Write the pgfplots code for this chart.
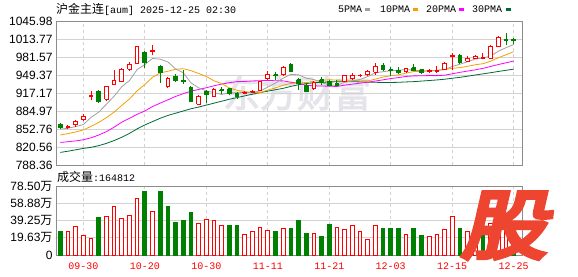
\documentclass[border=0pt]{standalone}
\usepackage{fontspec}
\setmainfont{Liberation Sans}
\newfontfamily\cjk{Noto Sans CJK SC}
\newfontfamily\cjkb[FakeBold=3]{Noto Sans CJK SC}
\newfontfamily\cjkh[FakeBold=6]{Noto Sans CJK SC}
\newfontfamily\mono{Liberation Mono}
\usepackage{pgfplots}
\pgfplotsset{compat=1.18}
\definecolor{kred}{HTML}{FF0000}
\definecolor{kgreen}{HTML}{008000}
\definecolor{maA}{HTML}{A0A0A0}
\definecolor{maB}{HTML}{F5A000}
\definecolor{maC}{HTML}{FF00FF}
\definecolor{maD}{HTML}{006A35}
\definecolor{framec}{HTML}{8C8C8C}
\definecolor{gridc}{HTML}{D2D2D2}
\definecolor{logoc}{HTML}{EE4530}
\definecolor{wmc}{HTML}{E4E4EA}
% candle: left edge, index, right edge, open, high, low, close
\newcommand\candU[7]{%
\addplot[kred, line width=1pt] coordinates {(#2,#6)(#2,#5)};
\addplot[draw=kred, fill=white, line width=1pt, line join=miter] coordinates {(#1,#4)(#3,#4)(#3,#7)(#1,#7)(#1,#4)};}
\newcommand\candD[7]{%
\addplot[kgreen, line width=1pt] coordinates {(#2,#6)(#2,#5)};
\addplot[draw=kgreen, fill=kgreen, line width=1pt, line join=miter] coordinates {(#1,#4)(#3,#4)(#3,#7)(#1,#7)(#1,#4)};}
\pgfplotsset{kbase/.style={scale only axis, xmin=-0.56, xmax=60.08,
  axis line style={framec, line width=0.8pt}, major tick length=0pt,
  xmajorgrids, ymajorgrids, x grid style={gridc, dashed, line width=0.8pt},
  y grid style={gridc, line width=0.8pt},
  xtick={3,11,19,27,35,43,51,59},
  yticklabel style={font=\fontsize{12}{12}\selectfont, text=black},
  /pgf/number format/assume math mode=true}}
\begin{document}
\begin{tikzpicture}
\useasboundingbox (0pt,0pt) rectangle (578pt,276pt);
% watermark
\node[text=wmc, font=\cjkb\fontsize{37}{37}\selectfont, inner sep=0pt] at (297pt,183pt) {东方财富};
% price panel
\begin{axis}[kbase, at={(56pt,111pt)}, anchor=south west, width=466pt, height=144pt,
  ymin=788.36, ymax=1045.98, xticklabels={},
  ytick={788.36,820.56,852.76,884.97,917.17,949.37,981.57,1013.77,1045.98},
  yticklabels={788.36,820.56,852.76,884.97,917.17,949.37,981.57,1013.77,1045.98}]
\addplot[maD, line width=0.8pt] coordinates {(0,810.9)(1,813)(2,815.5)(3,818)(4,820)(5,823)(6,827)(7,832)(8,838)(9,845)(10,853)(11,860)(12,866)(13,872)(14,877)(15,881)(16,885)(17,889)(18,892)(19,895.5)(20,899)(21,902.5)(22,906)(23,909)(24,912)(25,915)(26,918)(27,920.5)(28,923)(29,925.5)(30,929)(31,932)(32,934)(33,935.5)(34,936.2)(35,937)(36,937.2)(37,937.5)(38,937.3)(39,937)(40,936.5)(41,936.3)(42,936)(43,936)(44,936.3)(45,937)(46,937.5)(47,938.5)(48,939.5)(49,940.5)(50,941.8)(51,943.5)(52,945.2)(53,947.2)(54,949.4)(55,951.4)(56,953.5)(57,955.7)(58,957.8)(59,959.8)};
\addplot[maC, line width=0.8pt] coordinates {(0,828.7)(1,830)(2,831.5)(3,833.5)(4,837)(5,842)(6,848)(7,856)(8,865)(9,872)(10,879)(11,885)(12,893)(13,899)(14,905)(15,911)(16,916)(17,920.5)(18,923.5)(19,926.6)(20,930.0)(21,933.2)(22,935.7)(23,937.5)(24,937.8)(25,938.7)(26,939.2)(27,939.7)(28,939.1)(29,938.8)(30,936.5)(31,934.6)(32,930.9)(33,930.0)(34,929.7)(35,929.3)(36,928.9)(37,931.2)(38,933.1)(39,934.8)(40,936.5)(41,938.6)(42,940.7)(43,943.0)(44,944.7)(45,946.8)(46,947.8)(47,947.9)(48,948.4)(49,948.2)(50,949.0)(51,951.5)(52,954.1)(53,956.4)(54,958.6)(55,961.2)(56,964.7)(57,968.1)(58,971.2)(59,974.3)};
\addplot[maB, line width=0.8pt] coordinates {(0,842)(1,844.5)(2,847.5)(3,851)(4,857.5)(5,864.5)(6,873)(7,883)(8,895)(9,906.5)(10,921.1)(11,932.5)(12,945.2)(13,953.1)(14,956.0)(15,959.7)(16,960.7)(17,957.1)(18,952.1)(19,946.8)(20,939.0)(21,934.0)(22,926.3)(23,922.0)(24,919.7)(25,917.8)(26,917.8)(27,922.5)(28,926.3)(29,931.0)(30,934.2)(31,935.4)(32,935.8)(33,938.2)(34,939.9)(35,940.9)(36,940.2)(37,940.1)(38,940.1)(39,938.8)(40,938.9)(41,941.9)(42,945.8)(43,948.0)(44,949.7)(45,952.8)(46,955.5)(47,956.0)(48,956.8)(49,957.7)(50,959.2)(51,961.3)(52,962.6)(53,964.9)(54,967.7)(55,969.6)(56,974.0)(57,980.2)(58,985.6)(59,991.0)};
\addplot[maA, line width=0.8pt] coordinates {(0,852.4)(1,854.2)(2,857.1)(3,860.7)(4,873.6)(5,882.9)(6,897.0)(7,911.5)(8,928.5)(9,939.4)(10,959.2)(11,968.0)(12,978.9)(13,977.7)(14,972.6)(15,960.3)(16,953.4)(17,935.3)(18,926.5)(19,920.9)(20,917.7)(21,914.6)(22,917.3)(23,917.5)(24,918.3)(25,917.8)(26,920.9)(27,927.7)(28,935.0)(29,943.7)(30,950.5)(31,949.7)(32,943.8)(33,941.2)(34,936.1)(35,931.3)(36,930.7)(37,936.2)(38,938.9)(39,941.4)(40,946.5)(41,953.2)(42,955.3)(43,957.0)(44,958.0)(45,959.1)(46,957.9)(47,956.7)(48,956.7)(49,957.4)(50,959.3)(51,964.6)(52,968.6)(53,973.1)(54,977.9)(55,979.9)(56,983.3)(57,991.9)(58,998.2)(59,1004.0)};
\candD{-0.24}{0}{0.24}{861.3}{863.7}{853.0}{855.4}
\candU{0.76}{1}{1.24}{854.8}{859.5}{853.0}{857.7}
\candU{1.76}{2}{2.24}{860.7}{869.0}{857.1}{866.6}
\candU{2.76}{3}{3.24}{869.0}{880.2}{867.2}{874.9}
\candU{3.76}{4}{4.24}{911.6}{920.5}{903.9}{913.4}
\candD{4.76}{5}{5.24}{919.9}{921.7}{899.8}{902.1}
\candU{5.76}{6}{6.24}{905.7}{930.5}{902.1}{928.2}
\candU{6.76}{7}{7.24}{931.7}{959.0}{931.1}{938.8}
\candU{7.76}{8}{8.24}{937.6}{961.9}{936.5}{960.1}
\candU{8.76}{9}{9.24}{959.6}{972.6}{957.2}{967.9}
\candU{9.76}{10}{10.24}{970.8}{1001.5}{970.3}{1001.0}
\candD{10.76}{11}{11.24}{990.3}{991.5}{961.9}{972.0}
\candU{11.76}{12}{12.24}{990.9}{1002.8}{985.0}{993.3}
\candD{12.76}{13}{13.24}{964.3}{967.9}{935.3}{954.2}
\candU{13.76}{14}{14.24}{929.4}{946.0}{926.4}{942.4}
\candD{14.76}{15}{15.24}{947.1}{951.9}{937.0}{939.4}
\candD{15.76}{16}{16.24}{939.4}{959.0}{934.1}{937.6}
\candD{16.76}{17}{17.24}{926.4}{928.8}{902.1}{902.7}
\candU{17.76}{18}{18.24}{896.8}{912.8}{895.0}{910.4}
\candD{18.76}{19}{19.24}{920.5}{922.3}{898.6}{914.6}
\candU{19.76}{20}{20.24}{911.6}{926.4}{910.4}{923.4}
\candD{20.76}{21}{21.24}{923.4}{928.2}{914.6}{921.7}
\candD{21.76}{22}{22.24}{924.6}{926.4}{913.9}{916.3}
\candD{22.76}{23}{23.24}{916.3}{919.3}{906.9}{911.6}
\candU{23.76}{24}{24.24}{916.3}{920.5}{914.6}{918.7}
\candU{24.76}{25}{25.24}{918.7}{923.4}{916.3}{920.5}
\candU{25.76}{26}{26.24}{921.7}{939.4}{919.9}{937.6}
\candU{26.76}{27}{27.24}{942.4}{956.0}{940.0}{950.1}
\candD{27.76}{28}{28.24}{950.1}{954.2}{941.2}{948.3}
\candU{28.76}{29}{29.24}{949.5}{964.9}{948.3}{961.9}
\candD{29.76}{30}{30.24}{968.4}{970.8}{954.2}{954.8}
\candD{30.76}{31}{31.24}{941.2}{944.2}{922.3}{933.5}
\candD{31.76}{32}{32.24}{930.5}{933.5}{918.7}{920.5}
\candU{32.76}{33}{33.24}{924.6}{938.8}{923.4}{935.3}
\candD{33.76}{34}{34.24}{941.2}{946.0}{931.7}{936.5}
\candD{34.76}{35}{35.24}{938.2}{941.2}{929.4}{930.5}
\candD{35.76}{36}{36.24}{934.1}{940.0}{929.4}{930.5}
\candU{36.76}{37}{37.24}{937.6}{950.1}{936.5}{948.3}
\candU{37.76}{38}{38.24}{943.0}{953.0}{940.0}{948.9}
\candU{38.76}{39}{39.24}{947.7}{951.3}{945.3}{948.9}
\candU{39.76}{40}{40.24}{949.5}{959.0}{947.1}{956.0}
\candU{40.76}{41}{41.24}{954.2}{970.8}{950.1}{963.7}
\candD{41.76}{42}{42.24}{966.7}{970.8}{956.0}{959.0}
\candD{42.76}{43}{43.24}{959.0}{963.1}{948.3}{957.2}
\candD{43.76}{44}{44.24}{957.8}{963.7}{951.3}{954.2}
\candU{44.76}{45}{45.24}{956.0}{962.5}{953.0}{961.3}
\candD{45.76}{46}{46.24}{961.9}{969.6}{956.0}{957.8}
\candD{46.76}{47}{47.24}{959.0}{960.1}{951.3}{953.0}
\candU{47.76}{48}{48.24}{955.4}{960.7}{953.0}{957.2}
\candU{48.76}{49}{49.24}{956.0}{964.9}{953.0}{957.8}
\candU{49.76}{50}{50.24}{959.0}{972.0}{957.8}{970.8}
\candU{50.76}{51}{51.24}{982.6}{988.6}{959.0}{984.4}
\candD{51.76}{52}{52.24}{983.8}{986.8}{969.0}{972.6}
\candU{52.76}{53}{53.24}{973.8}{983.8}{972.6}{979.7}
\candU{53.76}{54}{54.24}{979.1}{984.4}{977.9}{982.1}
\candU{54.76}{55}{55.24}{979.7}{988.6}{977.9}{980.9}
\candU{55.76}{56}{56.24}{979.1}{1002.2}{978.5}{1001.0}
\candU{56.76}{57}{57.24}{1000.4}{1019.3}{999.2}{1015.8}
\candD{57.76}{58}{58.24}{1013.4}{1025.3}{1002.8}{1011.1}
\candD{58.76}{59}{59.24}{1013.4}{1015.8}{1005.1}{1011.1}
\end{axis}
% volume panel
\begin{axis}[kbase, at={(56pt,21pt)}, anchor=south west, width=466pt, height=69pt,
  ymin=0, ymax=78.5,
  ytick={0,19.625,39.25,58.875,78.5},
  yticklabels={0,19.63{\cjk 万},39.25{\cjk 万},58.88{\cjk 万},78.50{\cjk 万}},
  xticklabels={09-30,10-20,10-30,11-11,11-21,12-03,12-15,12-25},
  xticklabel style={font=\mono\fontsize{10}{10}\selectfont, text=kred, yshift=-4pt}]
\addplot[ybar, bar width=0.48, bar shift=0pt, draw=kred, fill=white, line width=1pt] coordinates {(1,26.9)(2,32.6)(3,22.4)(4,19.0)(6,44.0)(7,55.3)(8,41.7)(9,45.1)(10,64.4)(12,49.6)(18,36.0)(19,40.6)(20,39.4)(21,34.1)(24,23.5)(25,26.9)(26,31.5)(27,28.0)(29,30.3)(33,23.9)(36,31.5)(37,29.2)(38,33.7)(39,26.9)(40,17.8)(41,33.7)(45,23.5)(48,21.2)(49,23.5)(50,29.2)(51,44.0)(53,26.9)(54,25.0)(56,36.0)(57,40.0)(58,34.9)};
\addplot[ybar, bar width=0.48, bar shift=0pt, draw=kgreen, fill=kgreen, line width=1pt] coordinates {(0,27.3)(5,43.2)(11,72.8)(13,72.8)(14,55.7)(15,37.5)(16,38.7)(17,47.8)(22,33.0)(23,34.1)(28,26.2)(30,30.7)(31,39.8)(32,23.9)(34,21.6)(35,35.2)(42,30.7)(43,29.6)(44,30.7)(46,29.6)(47,22.7)(52,29.6)(55,26.5)(59,16.48)};
\end{axis}
% title and legend
\node[anchor=base west, inner sep=0pt] at (56pt,262.7pt) {{\cjk\fontsize{12}{12}\selectfont 沪金主连}{\mono\fontsize{10}{10}\selectfont [aum] 2025-12-25 02:30}};
\node[anchor=base west, inner sep=0pt] at (57pt,95pt) {{\cjk\fontsize{12}{12}\selectfont 成交量}{\mono\fontsize{10}{10}\selectfont :164812}};
\begin{scope}[font=\mono\fontsize{10}{10}\selectfont]
\node[anchor=base west, inner sep=0pt] at (338pt,263.3pt) {5PMA};
\fill[maA] (365pt,265pt) rectangle (370pt,267.7pt);
\node[anchor=base west, inner sep=0pt] at (380pt,263.3pt) {10PMA};
\fill[maB] (413pt,265pt) rectangle (418pt,267.7pt);
\node[anchor=base west, inner sep=0pt] at (426pt,263.3pt) {20PMA};
\fill[maC] (459pt,265pt) rectangle (464pt,267.7pt);
\node[anchor=base west, inner sep=0pt] at (472pt,263.3pt) {30PMA};
\fill[maD] (506pt,265pt) rectangle (511pt,267.7pt);
\end{scope}
% logo
\node[text=logoc, font=\cjkh\fontsize{75}{75}\selectfont, inner sep=0pt, xscale=1.15, xslant=0.2] at (510pt,50.5pt) {股};
\end{tikzpicture}
\end{document}
